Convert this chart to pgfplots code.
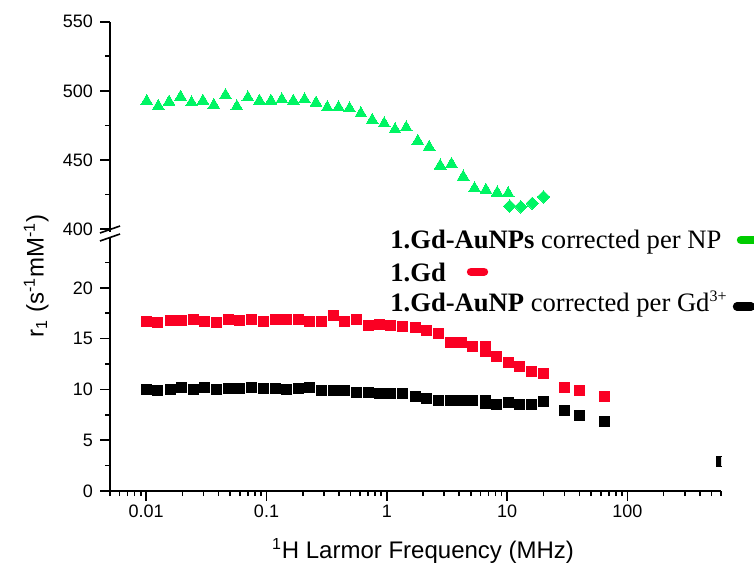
\documentclass[border=0pt]{standalone}
\usepackage{fontspec}
\setmainfont{Liberation Sans}
\newfontfamily\timesfont{Liberation Serif}
\usepackage{pgfplots}
\usepackage{pgfplotstable}
\pgfplotsset{compat=1.18}
\definecolor{mgreen}{RGB}{0,245,100}
\definecolor{lgreen}{RGB}{0,204,0}
\definecolor{mred}{RGB}{250,0,35}

\pgfplotstableread{
f v
0.0101 492.5
0.0126 488.9
0.0155 492.0
0.0193 495.6
0.0238 491.5
0.0296 492.7
0.0365 489.6
0.0456 496.8
0.0567 488.6
0.070 495.1
0.0874 492.7
0.1088 492.7
0.134 493.7
0.167 492.7
0.207 493.7
0.258 491.3
0.320 487.9
0.397 487.9
0.490 487.2
0.609 483.6
0.757 478.8
0.951 476.3
1.17 472.0
1.45 473.4
1.81 463.6
2.25 459.3
2.78 445.8
3.45 447.0
4.32 437.8
5.36 429.4
6.67 428.2
8.28 426.3
10.2 425.8
}\greentri

\pgfplotstableread{
f v
10.5 416.6
13.0 416.1
16.2 418.6
20.1 423.3
}\greendia

\pgfplotstableread{
f v
0.0101 16.70
0.0125 16.63
0.01583 16.75
0.01966 16.82
0.02472 16.92
0.03075 16.70
0.03839 16.63
0.04829 16.89
0.06 16.82
0.075 16.85
0.0937 16.70
0.1178 16.92
0.1478 16.89
0.1834 16.89
0.2297 16.66
0.2873 16.72
0.3589 17.31
0.4488 16.72
0.5616 16.85
0.7078 16.30
0.8777 16.35
1.068 16.26
1.35 16.16
1.72 16.07
2.12 15.81
2.69 15.47
3.36 14.59
4.14 14.66
5.18 14.24
6.56 14.22
6.56 13.72
8.21 13.21
10.2 12.60
12.7 12.27
16.0 11.78
20.0 11.58
29.9 10.22
39.8 9.87
65 9.27
}\redsq

\pgfplotstableread{
f v
0.0101 10.0
0.0125 9.94
0.01583 10.03
0.01966 10.2
0.02472 10.0
0.03075 10.2
0.03839 10.03
0.04829 10.06
0.06 10.1
0.075 10.16
0.0937 10.1
0.1178 10.1
0.1478 10.0
0.1834 10.06
0.2297 10.2
0.2873 9.87
0.3589 9.94
0.4488 9.9
0.5616 9.71
0.7078 9.71
0.8777 9.56
1.068 9.61
1.35 9.57
1.72 9.28
2.12 9.12
2.69 8.88
3.36 8.88
4.14 8.88
5.18 8.88
6.56 8.95
6.56 8.65
8.21 8.52
10.2 8.74
12.7 8.52
16.0 8.56
20.0 8.80
29.9 7.94
39.8 7.48
65 6.86
600 2.88
}\blacksq

\begin{document}
\begin{tikzpicture}
\path[use as bounding box] (0,0) rectangle (377pt,284.5pt);
\begin{axis}[scale only axis, xmode=log, xmin=0.005, xmax=600, width=305.5pt,
  axis line style={line width=0.8pt},
  every tick/.style={line width=0.8pt, black},
  tick align=outside,
  major tick length=5pt, minor tick length=2.5pt,
  tick label style={font=\fontsize{9}{10}\selectfont},
  xticklabel style={yshift=1.5pt},
  /pgf/number format/assume math mode=true,
  clip marker paths=true,
  at={(55pt,39pt)}, anchor=south west, height=127pt,
  ymin=0, ymax=25,
  axis x line*=bottom, axis y line*=left,
  ytick={0,5,10,15,20}, minor ytick={2.5,7.5,12.5,17.5,22.5},
  xtick={0.01,0.1,1,10,100}, xticklabels={0.01,0.1,1,10,100},
  minor xtick={0.005,0.006,0.007,0.008,0.009,0.02,0.03,0.04,0.05,0.06,0.07,0.08,0.09,0.2,0.3,0.4,0.5,0.6,0.7,0.8,0.9,2,3,4,5,6,7,8,9,20,30,40,50,60,70,80,90,200,300,400,500,600},
]
\addplot[only marks, mark=square*, mark size=2.5pt, color=mred, mark options={line width=0pt}] table[x=f,y=v] {\redsq};
\addplot[only marks, mark=square*, mark size=2.5pt, color=black, mark options={line width=0pt}] table[x=f,y=v] {\blacksq};
\end{axis}
\begin{axis}[scale only axis, xmode=log, xmin=0.005, xmax=600, width=305.5pt,
  y axis line style={line width=0.8pt},
  x axis line style={draw=none},
  every tick/.style={line width=0.8pt, black},
  tick align=outside,
  major tick length=5pt, minor tick length=2.5pt,
  tick label style={font=\fontsize{9}{10}\selectfont},
  /pgf/number format/assume math mode=true,
  at={(55pt,168.6pt)}, anchor=south west, height=105.05pt,
  ymin=398, ymax=550,
  axis x line*=bottom, axis y line*=left,
  xtick=\empty, xticklabels={}, minor xtick={},
  ytick={400,450,500,550}, minor ytick={425,475,525},
]
\addplot[only marks, mark=triangle*, mark size=3.4pt, color=mgreen, mark options={line width=0pt}] table[x=f,y=v] {\greentri};
\addplot[only marks, mark=square*, mark size=2.2pt, color=mgreen, mark options={rotate=45, line width=0pt}] table[x=f,y=v] {\greendia};
\end{axis}
% axis break marks
\draw[line width=0.8pt] (50pt,168pt) -- (60pt,171.5pt);
\draw[line width=0.8pt] (50pt,164pt) -- (60pt,167.5pt);
% axis labels
\node[rotate=90, anchor=base, font=\fontsize{12}{14}\selectfont] at (21.75pt,146.5pt) {r\textsubscript{1} (s\textsuperscript{-1}mM\textsuperscript{-1})};
\node[anchor=base, font=\fontsize{12}{14}\selectfont] at (211.5pt,5.5pt) {\textsuperscript{1}H Larmor Frequency (MHz)};
% legend
\node[anchor=base west, inner sep=0pt, font=\timesfont\fontsize{13.3}{15}\selectfont] at (195pt,160.5pt) {\textbf{1.Gd-AuNPs} corrected per NP};
\node[anchor=base west, inner sep=0pt, font=\timesfont\fontsize{13.3}{15}\selectfont] at (195pt,144pt) {\textbf{1.Gd}};
\node[anchor=base west, inner sep=0pt, font=\timesfont\fontsize{13.3}{15}\selectfont] at (195pt,129pt) {\textbf{1.Gd-AuNP} corrected per Gd\raisebox{5pt}{\fontsize{8}{9}\selectfont 3+}};
\draw[lgreen, line width=4.2pt, line cap=round] (370.5pt,164.5pt) -- (377pt,164.5pt);
\draw[mred, line width=4.2pt, line cap=round] (235.5pt,148.65pt) -- (242pt,148.65pt);
\draw[black, line width=4.2pt, line cap=round] (368.5pt,131.2pt) -- (375.5pt,131.2pt);
\end{tikzpicture}
\end{document}
